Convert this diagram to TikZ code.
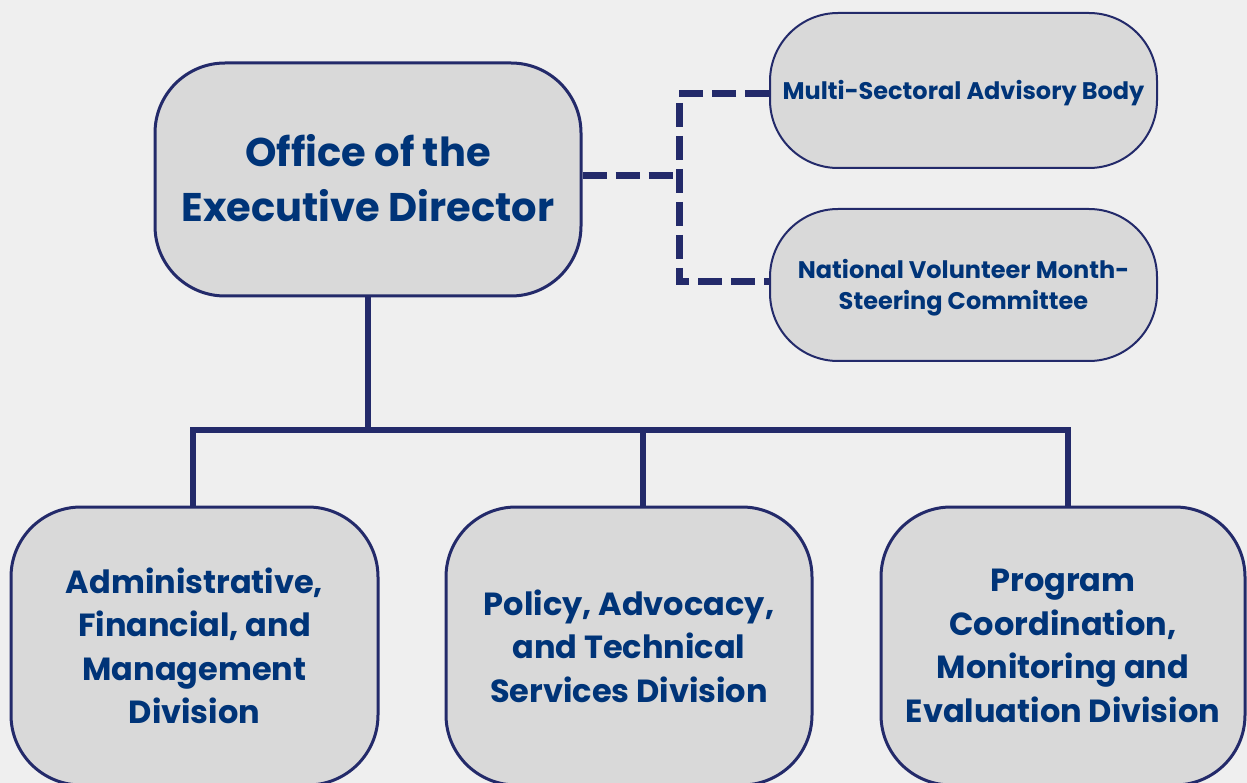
\documentclass[tikz,border=0pt]{standalone}
\usepackage{fontspec}
\setmainfont{Poppins}
\definecolor{bg}{HTML}{EFEFEF}
\definecolor{boxfill}{HTML}{D9D9D9}
\definecolor{linec}{HTML}{232A6A}
\definecolor{textc}{HTML}{003478}
\newcommand{\lowertext}[2]{\raisebox{-#1}[\height][\depth]{#2}}
\tikzset{
  orgbox/.style={draw=linec, fill=boxfill, line width=3pt, rounded corners=70pt,
    align=center, text=textc, font=\bfseries, inner sep=0pt},
  sidebox/.style={draw=linec, fill=boxfill, line width=2pt, rounded corners=68pt,
    align=center, text=textc, inner sep=0pt},
  tree/.style={draw=linec, line width=6pt, line join=miter},
  dashlink/.style={draw=linec, line width=7pt, dash pattern=on 24pt off 9pt}
}
\begin{document}
\begin{tikzpicture}[x=1pt,y=-1pt]
\fill[bg] (0,0) rectangle (1247,783);
\useasboundingbox (0,0) rectangle (1247,783);
\clip (0,0) rectangle (1247,783);

% top box
\node[orgbox, minimum width=426pt, minimum height=233pt,
  font=\bfseries\fontsize{40}{54.5}\selectfont] (top) at (368,179.5)
  {\lowertext{3.5pt}{\begin{tabular}{@{}c@{}}Office of the\\Executive Director\end{tabular}}};

% side boxes
\node[sidebox, minimum width=387pt, minimum height=155pt,
  font=\bfseries\fontsize{24}{31}\selectfont] (m) at (963.5,90.5)
  {\lowertext{3pt}{Multi-Sectoral Advisory Body}};
\node[sidebox, minimum width=387pt, minimum height=152pt,
  font=\bfseries\fontsize{24}{31}\selectfont] (n) at (963.5,285)
  {\lowertext{3pt}{\begin{tabular}{@{}c@{}}National Volunteer Month-\\Steering Committee\end{tabular}}};

% bottom boxes
\node[orgbox, minimum width=367pt, minimum height=278pt,
  font=\bfseries\fontsize{32}{43.5}\selectfont] (a) at (194.5,646)
  {Administrative,\\Financial, and\\Management\\Division};
\node[orgbox, minimum width=366pt, minimum height=278pt,
  font=\bfseries\fontsize{32}{43.5}\selectfont] (b) at (629,646)
  {Policy, Advocacy,\\and Technical\\Services Division};
\node[orgbox, minimum width=364pt, minimum height=278pt,
  font=\bfseries\fontsize{32}{43.5}\selectfont] (c) at (1063,646)
  {Program\\Coordination,\\Monitoring and\\Evaluation Division};

% solid tree
\coordinate (bl) at (193,430);
\coordinate (bm) at (643,430);
\coordinate (br) at (1068,430);
\draw[tree] (top.south) -- (top.south |- bl);
\draw[tree] (bl |- a.north) -- (bl) -- (br) -- (br |- c.north);
\draw[tree] (bm) -- (bm |- b.north);

% dashed links
\coordinate (dj) at (679,176);
\coordinate (dt) at (679,94);
\coordinate (db) at (679,282);
\draw[dashlink] (top.east |- dj) -- (dj);
\draw[dashlink] (m.west |- dt) -- (dt) -- (db) -- (n.west |- db);
\end{tikzpicture}
\end{document}
